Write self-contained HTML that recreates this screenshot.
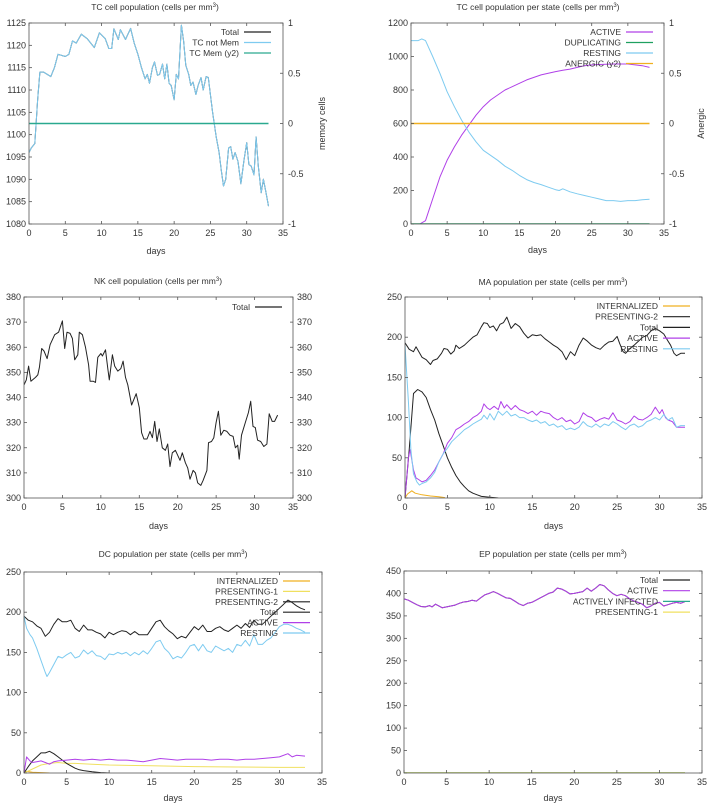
<!DOCTYPE html>
<html><head><meta charset="utf-8">
<style>
html,body{margin:0;padding:0;background:#fff;}
svg{display:block;font-family:"Liberation Sans",sans-serif;}
</style></head>
<body>
<svg id="fig" width="710" height="806" viewBox="0 0 710 806" xmlns="http://www.w3.org/2000/svg"></svg>
<script>
// ---------- Panel 1: TC cell population ----------
const tcDays = [0,0.3,0.8,1.2,1.5,2,3,3.5,4,5,5.5,6,6.5,7.2,8,9,9.7,10.5,11,11.4,11.7,12.3,12.6,13.3,14,14.5,15,15.5,16,16.3,16.6,17,17.3,17.7,18,18.4,18.7,19,19.3,19.6,20,20.3,20.6,21,21.3,21.6,22,22.3,22.6,23,23.3,23.7,24,24.4,24.7,25.3,25.8,26.2,26.5,26.8,27.1,27.5,27.8,28.1,28.4,28.8,29.2,29.6,30,30.3,30.6,31,31.3,31.6,32,32.3,32.6,33];
const tcTotal = [1096,1097,1098,1108,1114,1114,1113,1115,1118,1117.5,1118,1121,1120.5,1122.5,1121.5,1119.5,1122.8,1121.5,1119.3,1119.3,1123.7,1121.3,1123.5,1121.3,1123.8,1120.5,1118,1115,1112.5,1113.5,1111.5,1115,1116.3,1113.3,1113.5,1115.8,1112.5,1115.8,1111.5,1111,1107.8,1113.5,1112.5,1124.5,1121,1115.5,1113.5,1111,1111.8,1109,1111,1112.8,1110,1113,1112.8,1105,1099.5,1096,1092,1088.5,1090,1097,1097.3,1094.5,1096,1094,1089,1094,1098.2,1093.3,1093,1091,1099.5,1093,1087,1090,1087.5,1084];
const tcMemDays = [0,33];
const tcMem = [0,0];
const tcYTicks = [1080,1085,1090,1095,1100,1105,1110,1115,1120,1125];
const tcY2Ticks = [-1,-0.5,0,0.5,1];
const tcY2Labels = ["-1","-0.5","0","0.5","1"];

// ---------- Panel 2: TC per state ----------
const tcsRestDays = [0,1,1.5,2,3,4,5,6,7,8,9,10,11,12,13,14,15,16,17,18,19,20,20.5,21,22,23,24,25,26,27,28,29,30,31,32,33];
const tcsResting = [1095,1095,1105,1095,1000,900,790,700,620,550,490,440,410,380,345,320,290,265,248,235,220,205,200,210,192,180,170,160,150,140,140,135,140,140,145,148];
const tcsActDays = [1.2,2,3,4,5,6,7,8,9,10,11,12,13,14,15,16,17,18,19,20,21,22,23,24,25,26,28,30,31,32,33];
const tcsActive = [0,20,150,280,380,460,530,590,650,700,740,770,800,820,840,860,875,890,900,910,918,925,935,945,950,952,955,955,950,945,935];
const tcsFlatDays = [0,33];
const tcsAnergic = [0,0];
const tcsDup = [0,0];
const tcsYTicks = [0,200,400,600,800,1000,1200];

// ---------- Panel 3: NK ----------
const nkDays = [0,0.3,0.6,0.9,1.5,1.8,2,2.3,2.6,3,3.4,4,4.5,5,5.3,5.6,6,6.3,6.6,7,7.2,7.6,8,8.4,8.6,9,9.3,9.6,10,10.2,10.6,10.9,11.1,11.5,11.8,12.2,12.6,12.9,13.2,13.5,14,14.6,15,15.3,15.6,16,16.4,16.7,17,17.3,17.6,18,18.4,18.7,19,19.3,19.7,20,20.3,20.6,21,21.3,21.6,22,22.3,22.6,23,23.3,23.8,24,24.4,24.7,25,25.3,25.6,26,26.4,26.8,27.2,27.5,27.8,28,28.3,28.8,29.2,29.5,29.8,30.1,30.4,30.8,31.2,31.6,31.9,32.3,32.6,33];
const nkTotal = [345,347,352.5,346.5,348,349,352,359.5,358.5,355.5,361,365,366,370.5,359.5,366,365.5,363.5,355,357,366,365,360,353,346.5,346.5,346,356,357.5,356.5,359,351.5,347,357,352.5,350.5,351.5,354.5,348,345,337,341.5,336,326,323.5,323.5,326.5,324,330.5,322.5,327.5,320,319,321.5,312.5,318,319,317,315,318,314,312,307.5,311,310,306,305,307,311,322,322.5,324,330,334.5,325,327,326.5,325,324.5,320,321,315.5,325,330,334,338.5,328.5,328,323,322.5,320.5,321.5,333.5,330.5,330.5,333];
const nkYTicks = [300,310,320,330,340,350,360,370,380];

// ---------- Panel 4: MA ----------
const maTotDays = [0,0.5,1,1.3,2,2.5,3,3.3,3.8,4.3,4.6,5,5.4,5.8,6,6.4,7,7.5,8,8.5,9,9.3,9.7,10,10.4,10.8,11.2,11.6,12,12.5,13,13.5,14,14.5,15,15.5,16,16.5,17,17.5,18,18.5,19,19.5,20,20.5,21,21.5,22,22.5,23,23.5,24,24.5,25,25.3,25.7,26,26.5,27,27.5,28,28.5,29,29.5,30,30.5,31,31.3,31.7,32,32.5,33];
const maTotal = [193,185,182,188,175,172,166,171,173,180,186,185,179,183,190,186,190,195,200,203,213,218,217,212,214,208,216,218,225,211,217,213,205,199,203,202,203,198,194,190,187,182,172,182,177,190,199,195,190,187,185,190,194,195,201,192,182,180,186,190,195,200,202,208,211,208,204,195,190,180,177,180,180];
const maP2Days = [0,0.5,1,1.5,2,2.5,3,3.5,4,4.5,5,5.5,6,6.5,7,7.5,8,8.5,9,10,11];
const maPresenting2 = [0,60,130,135,132,125,110,97,80,65,50,38,28,20,14,9,6,4,2,1,0];
const maIntDays = [0,0.3,0.8,1.2,2,3,4,4.7];
const maInternalized = [0,5,9,6,4,2.5,1.5,0.5];
const maActDays = [0,0.4,0.6,1,1.3,1.6,2,2.5,3,3.5,4,4.5,5,5.5,6,6.5,7,7.5,8,8.5,9,9.3,9.7,10,10.5,11,11.3,11.7,12,12.5,13,13.5,14,14.5,15,15.5,16,16.5,17,17.5,18,18.5,19,19.5,20,20.5,21,21.5,22,22.5,23,23.5,24,24.5,25,25.5,26,26.5,27,27.5,28,28.5,29,29.5,30,30.3,30.7,31,31.5,32,32.5,33];
const maActive = [0,50,60,35,25,23,20,22,28,35,45,55,68,75,85,88,92,95,100,103,108,117,112,110,114,110,120,112,116,110,115,110,108,105,108,103,108,106,105,100,97,100,95,97,92,95,106,102,100,95,98,100,98,106,97,95,92,95,102,98,97,100,104,113,105,110,100,97,95,88,88,88];
const maRestDays = [0,0.4,0.7,1,1.4,1.7,2,2.5,3,3.5,4,4.5,5,5.5,6,6.5,7,7.5,8,8.5,9,9.3,9.7,10,10.5,11,11.5,12,12.5,13,13.5,14,14.5,15,15.5,16,16.5,17,17.5,18,18.5,19,19.5,20,20.5,21,21.5,22,22.5,23,23.5,24,24.5,25,25.5,26,26.5,27,27.5,28,28.5,29,29.5,30,30.5,31,31.5,32,32.5,33];
const maResting = [190,120,60,30,20,16,18,20,25,32,45,55,62,70,75,80,85,88,92,95,98,103,98,105,97,108,103,108,102,104,100,100,97,95,97,93,95,90,92,88,90,85,87,85,88,95,90,88,92,88,92,90,95,92,88,85,90,92,88,90,95,97,100,97,104,97,100,88,90,90];
const maYTicks = [0,50,100,150,200,250];

// ---------- Panel 5: DC ----------
const dcTotDays = [0,0.5,1,1.5,2,2.5,3,3.5,4,4.5,5,5.5,6,6.5,7,7.5,8,8.5,9,9.5,10,10.5,11,11.5,12,12.5,13,13.5,14,14.5,15,15.5,16,16.5,17,17.5,18,18.5,19,19.5,20,20.5,21,21.5,22,22.5,23,23.5,24,24.5,25,25.5,26,26.5,27,27.5,28,28.5,29,29.5,30,30.5,31,31.5,32,32.5,33];
const dcTotal = [195,190,188,183,180,170,175,185,192,188,188,190,180,176,184,178,178,175,173,168,175,172,175,177,176,172,176,172,172,172,180,188,190,182,177,173,167,170,168,175,182,178,184,176,176,180,182,178,176,180,184,180,186,181,190,185,185,190,195,200,205,210,215,212,208,205,203];
const dcRestDays = [0,0.3,0.7,1,1.5,2,2.5,2.7,3,3.5,4,4.5,5,5.5,6,6.5,7,7.5,8,8.5,9,9.5,10,10.5,11,11.5,12,12.5,13,13.5,14,14.5,15,15.5,16,16.5,17,17.5,18,18.5,19,19.5,20,20.5,21,21.5,22,22.5,23,23.5,24,24.5,25,25.5,26,26.5,27,27.5,28,28.5,29,29.5,30,30.5,31,31.5,32,32.5,33];
const dcResting = [195,180,172,168,155,140,125,120,125,135,145,143,147,150,143,145,153,148,152,146,145,141,148,147,150,148,150,146,150,147,152,148,155,163,165,155,150,142,145,143,150,158,160,152,160,152,150,158,155,152,155,150,160,158,165,158,172,160,160,165,168,175,182,185,185,183,180,178,175];
const dcP2Days = [0,0.5,1,1.5,2,2.5,3,3.5,4,4.5,5,5.5,6,6.5,7,8,9,10];
const dcPresenting2 = [0,8,15,20,25,25,27,24,20,16,12,9,6,4,3,1.5,0.5,0];
const dcP1Days = [0,1,2,3,4,5,6,8,10,15,20,25,30,33];
const dcPresenting1 = [0,5,10,12,13,12,12,11,10,9,8,7.5,7,7];
const dcIntDays = [0,0.3,1,2,3];
const dcInternalized = [0,2,1,0.5,0];
const dcActDays = [0,0.3,0.7,1,1.5,2,2.5,3,3.5,4,5,6,7,8,9,10,11,12,13,14,15,16,17,18,19,20,21,22,23,24,25,26,27,28,29,30,31,31.5,32,33];
const dcActive = [0,20,15,13,14,15,13,11,14,15,16,17,16,17,16,17,16,16,15,14,16,18,17,16,17,17,17,16,17,17,16,17,17,18,19,20,24,20,22,21];
const dcYTicks = [0,50,100,150,200,250];

// ---------- Panel 6: EP ----------
const epDays = [0,0.5,1,1.5,2,2.5,3,3.3,3.7,4,4.5,5,5.5,6,6.5,7,7.5,8,8.5,9,9.5,10,10.5,11,11.5,12,12.5,13,13.5,14,14.5,15,15.5,16,16.5,17,17.5,18,18.5,19,19.5,20,20.5,21,21.5,22,22.5,23,23.5,24,24.5,25,25.5,26,26.5,27,27.5,28,28.5,29,29.5,30,30.5,31,31.5,32,32.5,33];
const epTotal = [388,385,380,375,371,370,373,370,376,373,368,370,372,374,378,381,382,385,383,390,397,400,404,400,395,390,389,383,377,373,378,380,385,390,395,400,403,412,410,405,399,400,402,404,412,405,412,420,417,408,400,395,398,395,388,383,380,376,368,372,378,380,372,375,378,380,378,382];
const epActive = [388,385,380,375,371,370,373,370,376,373,368,370,372,374,378,381,382,385,383,390,397,400,404,400,395,390,389,383,377,373,378,380,385,390,395,400,403,412,410,405,399,400,402,404,412,405,412,420,417,408,400,395,398,395,388,383,380,376,368,372,378,380,372,375,378,380,378,382];
const epFlatDays = [0,33];
const epInfected = [0,0];
const epPresenting1 = [0,0];
const epYTicks = [0,50,100,150,200,250,300,350,400,450];

const xTicks = [0,5,10,15,20,25,30,35];

const NS = "http://www.w3.org/2000/svg";
const svg = document.getElementById('fig');
function mk(tag, attrs, parent){
  const e = document.createElementNS(NS, tag);
  for (const k in attrs) e.setAttribute(k, attrs[k]);
  (parent||svg).appendChild(e);
  return e;
}
function addText(g, x, y, str, anchor, size, rot){
  const t = mk('text', {x:x, y:y, 'font-size':size||9, fill:'#333', 'text-anchor':anchor||'middle'}, g);
  if (rot) t.setAttribute('transform', 'rotate(-90 '+x+' '+y+')');
  t.textContent = str;
  return t;
}

function panel(cfg){
  const g = mk('g', {});
  
  
  const L=cfg.l, R=cfg.r, T=cfg.t, B=cfg.b;
  const sx = v => L + (v - 0) / 35 * (R - L);
  const sy = v => B - (v - cfg.ymin) / (cfg.ymax - cfg.ymin) * (B - T);
  const sy2 = v => B - (v - cfg.y2min) / (cfg.y2max - cfg.y2min) * (B - T);
  const tt = mk('text', {x:cfg.tx, y:cfg.ty, 'font-size':8.5, fill:'#333', 'text-anchor':'middle'}, g);
  
  
  tt.textContent = cfg.title + ' (cells per mm';
  const sup = mk('tspan', {'font-size':6, dy:-3}, tt); sup.textContent='3';
  const cl = mk('tspan', {dy:3}, tt); cl.textContent=')';
  const cid = 'clip-'+cfg.name;
  const cp = mk('clipPath', {id:cid}, g);
  mk('rect', {x:L, y:T-1, width:R-L, height:B-T+1}, cp);
  const sg = mk('g', {'clip-path':'url(#'+cid+')'}, g);
  cfg.series.forEach(s => {
    const yf = s.y2 ? sy2 : sy;
    let d = '';
    s.x.forEach((xv,i) => { d += (i?'L':'M') + sx(xv).toFixed(1) + ',' + yf(s.y[i]).toFixed(1); });
    const flat = s.x.length === 2;
    const p = mk('path', {d:d, fill:'none', stroke:s.color, 'stroke-width':flat?1.6:1, 'stroke-linejoin':'round'}, sg);
    
    
  });
  const fr = mk('rect', {x:L, y:T, width:R-L, height:B-T, fill:'none', stroke:'#555', 'stroke-width':0.8}, g);
  
  
  const xg = mk('g', {}, g);
  
  
  xTicks.forEach(v => {
    const x = sx(v);
    mk('line', {x1:x, x2:x, y1:B, y2:B-3, stroke:'#555', 'stroke-width':0.8}, xg);
    mk('line', {x1:x, x2:x, y1:T, y2:T+3, stroke:'#555', 'stroke-width':0.8}, xg);
    addText(xg, x, B+12, String(v), 'middle', 9);
  });
  const xl = addText(g, (L+R)/2, cfg.dy, 'days', 'middle', 9);
  
  
  const yg = mk('g', {}, g);
  
  
  cfg.yticks.forEach(v => {
    const y = sy(v);
    mk('line', {x1:L, x2:L+3, y1:y, y2:y, stroke:'#555', 'stroke-width':0.8}, yg);
    if (!cfg.y2ticks) mk('line', {x1:R, x2:R-3, y1:y, y2:y, stroke:'#555', 'stroke-width':0.8}, yg);
    addText(yg, L-3, y+3, String(v), 'end', 9);
    if (cfg.mirrorLabels) addText(yg, R+4, y+3, String(v), 'start', 9);
  });
  if (cfg.y2ticks){
    const y2g = mk('g', {}, g);
    
    
    cfg.y2ticks.forEach((v,i) => {
      const y = sy2(v);
      mk('line', {x1:R, x2:R-3, y1:y, y2:y, stroke:'#555', 'stroke-width':0.8}, y2g);
      addText(y2g, R+5, y+3, cfg.y2labels[i], 'start', 9);
    });
    const yt = addText(g, cfg.y2tx, (T+B)/2, cfg.y2title, 'middle', 9, true);
    
    
  }
  const lg = mk('g', {}, g);
  
  
  cfg.series.forEach((s,i) => {
    const ly = cfg.ly + i*cfg.lsp;
    const e = mk('g', {}, lg);
    
    
    addText(e, cfg.lx, ly+3, s.label, 'end', 8.5);
    mk('line', {x1:cfg.lx+5, x2:cfg.lx+32, y1:ly, y2:ly, stroke:s.color, 'stroke-width':1.2}, e);
  });
}

const BLK='#222', SKY='#7ecbf0', TEAL='#2aa98f', PUR='#b040e8', GRN='#1fa060', ORG='#f0b020', YEL='#f0e060';

panel({name:'tc-cell-population', title:'TC cell population', l:29, r:283, t:23, b:224, ymin:1080, ymax:1125,
  y2min:-1, y2max:1, yticks:tcYTicks, y2ticks:tcY2Ticks, y2labels:tcY2Labels, y2title:'memory cells', y2tx:325,
  tx:155, ty:10, dy:254, lx:239, ly:32, lsp:10.5,
  series:[{label:'Total', x:tcDays, y:tcTotal, color:BLK},
          {label:'TC not Mem', x:tcDays, y:tcTotal, color:SKY},
          {label:'TC Mem (y2)', x:tcMemDays, y:tcMem, color:TEAL, y2:true}]});

panel({name:'tc-cell-population-per-state', title:'TC cell population per state', l:411, r:664, t:23, b:224, ymin:0, ymax:1200,
  y2min:-1, y2max:1, yticks:tcsYTicks, y2ticks:tcY2Ticks, y2labels:tcY2Labels, y2title:'Anergic', y2tx:704,
  tx:538, ty:10, dy:253, lx:621, ly:32, lsp:10.5,
  series:[{label:'ACTIVE', x:tcsActDays, y:tcsActive, color:PUR},
          {label:'DUPLICATING', x:tcsFlatDays, y:tcsDup, color:GRN},
          {label:'RESTING', x:tcsRestDays, y:tcsResting, color:SKY},
          {label:'ANERGIC (y2)', x:tcsFlatDays, y:tcsAnergic, color:ORG, y2:true}]});

panel({name:'nk-cell-population', title:'NK cell population', l:24, r:293, t:297, b:498, ymin:300, ymax:380,
  yticks:nkYTicks, mirrorLabels:true, tx:158, ty:284, dy:529, lx:250, ly:307, lsp:10.5,
  series:[{label:'Total', x:nkDays, y:nkTotal, color:BLK}]});

panel({name:'ma-population-per-state', title:'MA population per state', l:405, r:702, t:297, b:498, ymin:0, ymax:250,
  yticks:maYTicks, tx:553, ty:285, dy:529, lx:658, ly:306, lsp:10.7,
  series:[{label:'INTERNALIZED', x:maIntDays, y:maInternalized, color:ORG},
          {label:'PRESENTING-2', x:maP2Days, y:maPresenting2, color:BLK},
          {label:'Total', x:maTotDays, y:maTotal, color:BLK},
          {label:'ACTIVE', x:maActDays, y:maActive, color:PUR},
          {label:'RESTING', x:maRestDays, y:maResting, color:SKY}]});

panel({name:'dc-population-per-state', title:'DC population per state', l:24, r:322, t:572, b:773, ymin:0, ymax:250,
  yticks:dcYTicks, tx:173, ty:557, dy:801, lx:278, ly:581, lsp:10.4,
  series:[{label:'INTERNALIZED', x:dcIntDays, y:dcInternalized, color:ORG},
          {label:'PRESENTING-1', x:dcP1Days, y:dcPresenting1, color:YEL},
          {label:'PRESENTING-2', x:dcP2Days, y:dcPresenting2, color:BLK},
          {label:'Total', x:dcTotDays, y:dcTotal, color:BLK},
          {label:'ACTIVE', x:dcActDays, y:dcActive, color:PUR},
          {label:'RESTING', x:dcRestDays, y:dcResting, color:SKY}]});

panel({name:'ep-population-per-state', title:'EP population per state', l:404, r:702, t:571, b:773, ymin:0, ymax:450,
  yticks:epYTicks, tx:553, ty:557, dy:801, lx:658, ly:580, lsp:10.7,
  series:[{label:'Total', x:epDays, y:epTotal, color:BLK},
          {label:'ACTIVE', x:epDays, y:epActive, color:PUR},
          {label:'ACTIVELY INFECTED', x:epFlatDays, y:epInfected, color:TEAL},
          {label:'PRESENTING-1', x:epFlatDays, y:epPresenting1, color:YEL}]});
</script>
</body></html>
